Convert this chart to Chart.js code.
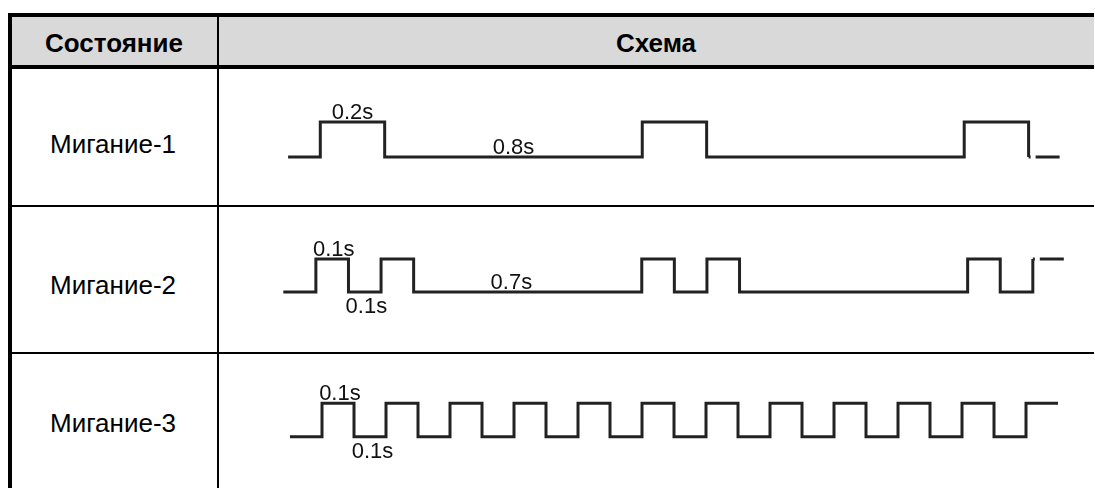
<!DOCTYPE html>
<html>
<head>
<meta charset="utf-8">
<script src="https://cdn.jsdelivr.net/npm/chart.js@4/dist/chart.umd.min.js"></script>
<style>
  html, body { margin: 0; padding: 0; background: #fff; }
  body { position: relative; overflow: hidden; width: 1095px; height: 488px; font-family: Arial, "Liberation Sans", sans-serif; color: #000; }
  .box { position: absolute; }
  .line { position: absolute; background: #000; }
  .txt { position: absolute; font-size: 26px; line-height: 26px; white-space: nowrap; transform: translateX(-50%); }
  .bold { font-weight: bold; }
  canvas { position: absolute; }
</style>
</head>
<body>
  <!-- table frame (the right edge runs off the picture) -->
  <div class="box" style="left:12px;top:17px;width:1082px;height:48px;background:#d9d9d9"></div>
  <div class="line" style="left:8px;top:13px;width:1086px;height:4px"></div>
  <div class="line" style="left:8px;top:13px;width:4px;height:475px"></div>
  <div class="line" style="left:8px;top:65px;width:1086px;height:4px"></div>
  <div class="line" style="left:12px;top:205px;width:1082px;height:2px"></div>
  <div class="line" style="left:12px;top:352px;width:1082px;height:2px"></div>
  <div class="line" style="left:217px;top:17px;width:2px;height:471px"></div>

  <div class="txt bold" style="left:114px;top:30px">Состояние</div>
  <div class="txt bold" style="left:656px;top:30px">Схема</div>
  <div class="txt" style="left:113px;top:131px">Мигание-1</div>
  <div class="txt" style="left:113px;top:272px">Мигание-2</div>
  <div class="txt" style="left:113px;top:410px">Мигание-3</div>

  <canvas id="row1" width="821" height="105" style="left:272px;top:87px"></canvas>
  <canvas id="row2" width="831" height="99" style="left:267px;top:226px"></canvas>
  <canvas id="row3" width="816" height="100" style="left:274px;top:370px"></canvas>

<script>
// time (s) at which the signal switches, and the level it switches to
var blink1Times = [-0.1, 0, 0.2, 1.0, 1.2, 2.0, 2.2];
var blink1Levels = [0, 1, 0, 1, 0, 1, 0];
var blink1Tail = [2.2, 2.3];     // dashed continuation
var blink1TailLevel = 0;
var blink1Labels = ["0.2s", "0.8s"];
var blink1LabelTimes = [0.1, 0.6];
var blink1LabelLevels = [1, 0];
var blink1LabelSides = ["above", "above"];

var blink2Times = [-0.1, 0, 0.1, 0.2, 0.3, 1.0, 1.1, 1.2, 1.3, 2.0, 2.1, 2.2];
var blink2Levels = [0, 1, 0, 1, 0, 1, 0, 1, 0, 1, 0, 1];
var blink2Tail = [2.2, 2.3];
var blink2TailLevel = 1;
var blink2Labels = ["0.1s", "0.1s", "0.7s"];
var blink2LabelTimes = [0.055, 0.155, 0.6];
var blink2LabelLevels = [1, 0, 0];
var blink2LabelSides = ["above", "below", "above"];

var blink3Times = [-0.1, 0, 0.1, 0.2, 0.3, 0.4, 0.5, 0.6, 0.7, 0.8, 0.9, 1.0, 1.1,
                   1.2, 1.3, 1.4, 1.5, 1.6, 1.7, 1.8, 1.9, 2.0, 2.1, 2.2, 2.3];
var blink3Levels = [0, 1, 0, 1, 0, 1, 0, 1, 0, 1, 0, 1, 0,
                    1, 0, 1, 0, 1, 0, 1, 0, 1, 0, 1, 1];
var blink3Labels = ["0.1s", "0.1s"];
var blink3LabelTimes = [0.056, 0.158];
var blink3LabelLevels = [1, 0];
var blink3LabelSides = ["above", "below"];

var lineColor = '#222222';

var pointsOf = (times, levels) => times.map((t, i) => ({ x: t, y: levels[i] }));

var labelPlugin = {
    id: 'timeLabels',
    afterDatasetsDraw(chart) {
        var cfg = chart.options.plugins.timeLabels;
        if (!cfg) return;
        var ctx = chart.ctx;
        ctx.save();
        ctx.font = '22px Arial, "Liberation Sans", sans-serif';
        ctx.fillStyle = '#111';
        ctx.textAlign = 'center';
        ctx.textBaseline = 'alphabetic';
        cfg.texts.forEach(function (text, i) {
            var x = chart.scales.x.getPixelForValue(cfg.times[i]);
            var y = chart.scales.y.getPixelForValue(cfg.levels[i]);
            ctx.fillText(text, x, cfg.sides[i] === 'above' ? y - 3 : y + 21);
        });
        ctx.restore();
    }
};

var renderRow = (id, times, levels, tail, tailLevel, labels) => {
    var datasets = [{
        data: pointsOf(times, levels),
        stepped: true,
        borderColor: lineColor,
        borderWidth: 3,
        borderJoinStyle: 'miter',
        pointRadius: 0,
        fill: false
    }];
    if (tail) {
        datasets.push({
            data: tail.map(t => ({ x: t, y: tailLevel })),
            borderColor: lineColor,
            borderWidth: 3,
            borderDash: [2, 5, 24, 100],
            pointRadius: 0,
            fill: false
        });
    }
    new Chart(document.getElementById(id).getContext('2d'), {
        type: 'line',
        data: { datasets: datasets },
        options: {
            responsive: false,
            animation: false,
            layout: { padding: 0 },
            plugins: {
                legend: { display: false },
                tooltip: { enabled: false },
                timeLabels: labels
            },
            scales: {
                x: { type: 'linear', min: -0.15, max: 2.4, display: false },
                y: { min: -1, max: 2, display: false }
            }
        },
        plugins: [labelPlugin]
    });
};

renderRow('row1', blink1Times, blink1Levels, blink1Tail, blink1TailLevel,
    { texts: blink1Labels, times: blink1LabelTimes, levels: blink1LabelLevels, sides: blink1LabelSides });
renderRow('row2', blink2Times, blink2Levels, blink2Tail, blink2TailLevel,
    { texts: blink2Labels, times: blink2LabelTimes, levels: blink2LabelLevels, sides: blink2LabelSides });
renderRow('row3', blink3Times, blink3Levels, null, null,
    { texts: blink3Labels, times: blink3LabelTimes, levels: blink3LabelLevels, sides: blink3LabelSides });
</script>
</body>
</html>
